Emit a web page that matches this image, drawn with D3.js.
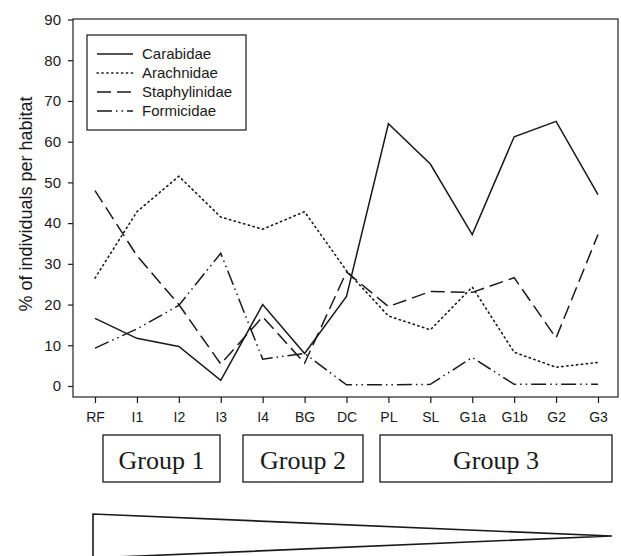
<!DOCTYPE html>
<html>
<head>
<meta charset="utf-8">
<script src="https://cdn.jsdelivr.net/npm/d3@7"></script>
<style>
  html, body { margin: 0; padding: 0; background: #fff; }
  svg { display: block; }
</style>
</head>
<body>
<svg id="chart" width="621" height="556"></svg>
<script>
// Habitats along the gradient
const habitats = ["RF", "I1", "I2", "I3", "I4", "BG", "DC", "PL", "SL", "G1a", "G1b", "G2", "G3"];

// Percentage of individuals per habitat for each family
const carabidae     = [16.6, 11.7, 9.7, 1.4, 20.0, 8.0, 22.0, 64.4, 54.5, 37.2, 61.2, 65.0, 47.0];
const arachnidae    = [26.5, 42.8, 51.5, 41.5, 38.5, 42.8, 28.3, 17.2, 13.8, 24.3, 8.3, 4.6, 5.8];
const staphylinidae = [48.0, 32.0, 20.0, 5.4, 17.0, 5.6, 28.0, 19.5, 23.2, 23.0, 26.6, 11.8, 37.2];
const formicidae    = [9.3, 14.0, 19.8, 32.6, 6.6, 8.0, 0.3, 0.3, 0.4, 7.0, 0.4, 0.4, 0.4];

const seriesNames = ["Carabidae", "Arachnidae", "Staphylinidae", "Formicidae"];
const seriesData = [carabidae, arachnidae, staphylinidae, formicidae];
const dashes = [null, "1.3,3.6", "14,6", "15,4,1.5,4,1.5,4"];

const yTicks = [0, 10, 20, 30, 40, 50, 60, 70, 80, 90];

const groupLabels = ["Group 1", "Group 2", "Group 3"];

const svg = d3.select("#chart");
const ink = "#1a1a1a";
const sans = "'Liberation Sans', Arial, Helvetica, sans-serif";
const serif = "'Liberation Serif', 'Times New Roman', serif";

const frame = { left: 73, right: 618, top: 19, bottom: 397 };

const x = d3.scalePoint().domain(habitats).range([95, 598]);
const y = d3.scaleLinear().domain([0, 90]).range([386, 19.5]);

// Plot frame
svg.append("rect")
  .attr("x", frame.left).attr("y", frame.top)
  .attr("width", frame.right - frame.left).attr("height", frame.bottom - frame.top)
  .attr("fill", "none").attr("stroke", "#333").attr("stroke-width", 1.3);

// Y axis
const yAxis = d3.axisLeft(y).tickValues(yTicks).tickSize(5).tickPadding(7);
const gy = svg.append("g").attr("transform", `translate(${frame.left},0)`).call(yAxis);
gy.select(".domain").remove();
gy.selectAll(".tick line").attr("stroke", ink).attr("stroke-width", 1.2);
gy.selectAll(".tick text").attr("fill", ink).style("font-family", sans).style("font-size", "15px");

// X axis
const xAxis = d3.axisBottom(x).tickSize(6).tickPadding(9);
const gx = svg.append("g").attr("transform", `translate(0,${frame.bottom})`).call(xAxis);
gx.select(".domain").remove();
gx.selectAll(".tick line").attr("stroke", ink).attr("stroke-width", 1.2);
gx.selectAll(".tick text").attr("fill", ink).style("font-family", sans).style("font-size", "14px");

// Y axis title
svg.append("text")
  .attr("transform", "translate(32,204) rotate(-90)")
  .attr("text-anchor", "middle")
  .attr("fill", ink)
  .style("font-family", sans).style("font-size", "18px")
  .text("% of individuals per habitat");

// Series lines
const line = d3.line().x((d, i) => x(habitats[i])).y(d => y(d));
seriesData.forEach((vals, k) => {
  svg.append("path")
    .datum(vals)
    .attr("d", line)
    .attr("fill", "none")
    .attr("stroke", ink)
    .attr("stroke-width", k === 1 ? 1.6 : 1.5)
    .attr("stroke-linecap", k === 1 ? "round" : "butt")
    .attr("stroke-dasharray", dashes[k]);
});

// Legend
const legend = svg.append("g");
legend.append("rect")
  .attr("x", 87).attr("y", 35).attr("width", 159).attr("height", 95)
  .attr("fill", "#fff").attr("stroke", ink).attr("stroke-width", 1.2);
seriesNames.forEach((name, k) => {
  const cy = 54 + k * 19;
  legend.append("line")
    .attr("x1", 97).attr("x2", 133).attr("y1", cy).attr("y2", cy)
    .attr("stroke", ink).attr("stroke-width", 1.5)
    .attr("stroke-linecap", k === 1 ? "round" : "butt")
    .attr("stroke-dasharray", dashes[k]);
  legend.append("text")
    .attr("x", 142).attr("y", cy + 5)
    .attr("fill", ink)
    .style("font-family", sans).style("font-size", "15px")
    .text(name);
});

// Habitat group boxes (horizontal extents in pixels)
const boxExtents = [[103, 220], [243, 363], [380, 612]];
const boxes = svg.append("g");
groupLabels.forEach((label, i) => {
  const [x0, x1] = boxExtents[i];
  boxes.append("rect")
    .attr("x", x0).attr("y", 435).attr("width", x1 - x0).attr("height", 47)
    .attr("fill", "none").attr("stroke", ink).attr("stroke-width", 1.3);
  boxes.append("text")
    .attr("x", (x0 + x1) / 2).attr("y", 469)
    .attr("text-anchor", "middle")
    .attr("fill", ink)
    .style("font-family", serif).style("font-size", "26px")
    .text(label);
});

// Gradient wedge narrowing towards the last habitat
svg.append("path")
  .attr("d", `M93,558 L93,514 L612,536 Z`)
  .attr("fill", "none").attr("stroke", ink).attr("stroke-width", 1.6)
  .attr("stroke-linejoin", "miter");
</script>
</body>
</html>
